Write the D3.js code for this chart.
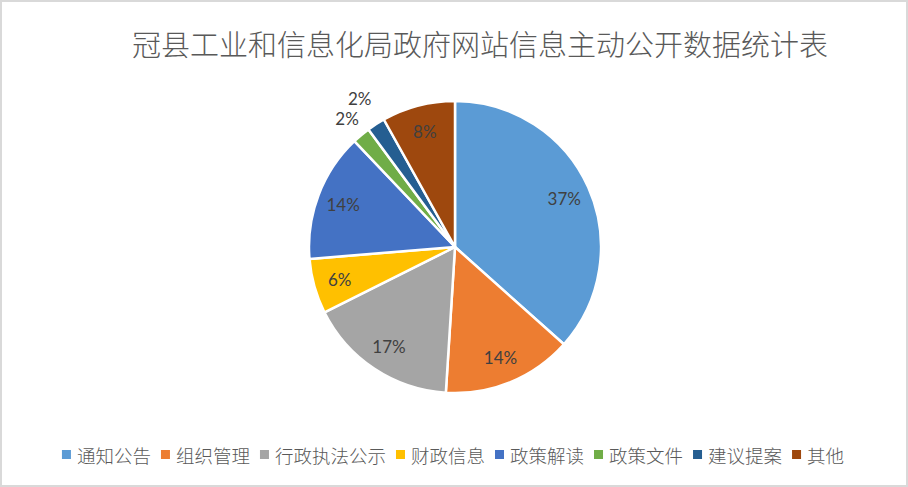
<!DOCTYPE html>
<html>
<head>
<meta charset="utf-8">
<title>冠县工业和信息化局政府网站信息主动公开数据统计表</title>
<style>
  body { margin: 0; background: #fff; }
  svg { display: block; font-family: "Noto Sans CJK SC", "Noto Sans", sans-serif; }
  .title { font-size: 29px; fill: #595959; font-weight: 300; }
  .label { font-size: 17px; fill: #404040; font-family: Lato, "Open Sans", sans-serif; }
  .legend text { font-size: 18.5px; fill: #595959; font-weight: 300; }
</style>
</head>
<body>
<svg width="908" height="487"></svg>
<script src="https://d3js.org/d3.v7.min.js"></script>
<script>
  // values (share of total, %)
  let categories = ["通知公告", "组织管理", "行政执法公示", "财政信息", "政策解读", "政策文件", "建议提案", "其他"];
  let values = [36.6, 14.4, 16.6, 6.1, 14.2, 2.0, 2.0, 8.1];
  let labels = ["37%", "14%", "17%", "6%", "14%", "2%", "2%", "8%"];
  let colors = ["#5B9BD5", "#ED7D31", "#A5A5A5", "#FFC000", "#4472C4", "#70AD47", "#255E91", "#9E480E"];

  let width = 908;
  let height = 487;
  let svg = d3.select("svg");

  // outer frame
  svg.append("rect")
    .attr("x", 1).attr("y", 1)
    .attr("width", width - 2).attr("height", height - 2)
    .attr("fill", "#fff")
    .attr("stroke", "#d9d9d9")
    .attr("stroke-width", 2);

  svg.append("text")
    .attr("class", "title")
    .attr("x", 480)
    .attr("y", 56)
    .attr("text-anchor", "middle")
    .text("冠县工业和信息化局政府网站信息主动公开数据统计表");

  let cx = 455, cy = 247, r = 146;

  let data = categories.map((c, i) => ({ name: c, value: values[i], label: labels[i], color: colors[i] }));

  let pie = d3.pie().sort(null).value(d => d.value);
  let arc = d3.arc().innerRadius(0).outerRadius(r);
  let arcs = pie(data);

  let g = svg.append("g").attr("transform", `translate(${cx},${cy})`);

  g.selectAll("path")
    .data(arcs)
    .join("path")
    .attr("d", arc)
    .attr("fill", d => d.data.color)
    .attr("stroke", "#fff")
    .attr("stroke-width", 2.5)
    .attr("stroke-linejoin", "round");

  // inside labels for big slices, outside for tiny ones (stepped out so they don't collide)
  let inner = d3.arc().innerRadius(r * 0.82).outerRadius(r * 0.82);
  let smallCount = 0;
  arcs.forEach(d => {
    if (d.data.value < 4) {
      let rr = r + 22 + 8 * smallCount++;
      d.labelPos = d3.arc().innerRadius(rr).outerRadius(rr).centroid(d);
    } else {
      d.labelPos = inner.centroid(d);
    }
  });

  g.selectAll("text.label")
    .data(arcs)
    .join("text")
    .attr("class", "label")
    .attr("text-anchor", "middle")
    .attr("dominant-baseline", "central")
    .attr("transform", d => `translate(${d.labelPos[0]},${d.labelPos[1]})`)
    .text(d => d.data.label);

  // legend, centred along the bottom
  let legend = svg.append("g").attr("class", "legend");
  let items = legend.selectAll("g")
    .data(data)
    .join("g");

  items.append("rect")
    .attr("width", 9).attr("height", 9)
    .attr("y", -5)
    .attr("fill", d => d.color);

  items.append("text")
    .attr("x", 15)
    .attr("dominant-baseline", "central")
    .text(d => d.name);

  let xPos = 0;
  items.each(function () {
    let w = d3.select(this).select("text").node().getComputedTextLength();
    d3.select(this).attr("transform", `translate(${xPos},0)`);
    xPos += 15 + w + 10;
  });
  let total = xPos - 10;
  legend.attr("transform", `translate(${453 - total / 2},455)`);
</script>
</body>
</html>
